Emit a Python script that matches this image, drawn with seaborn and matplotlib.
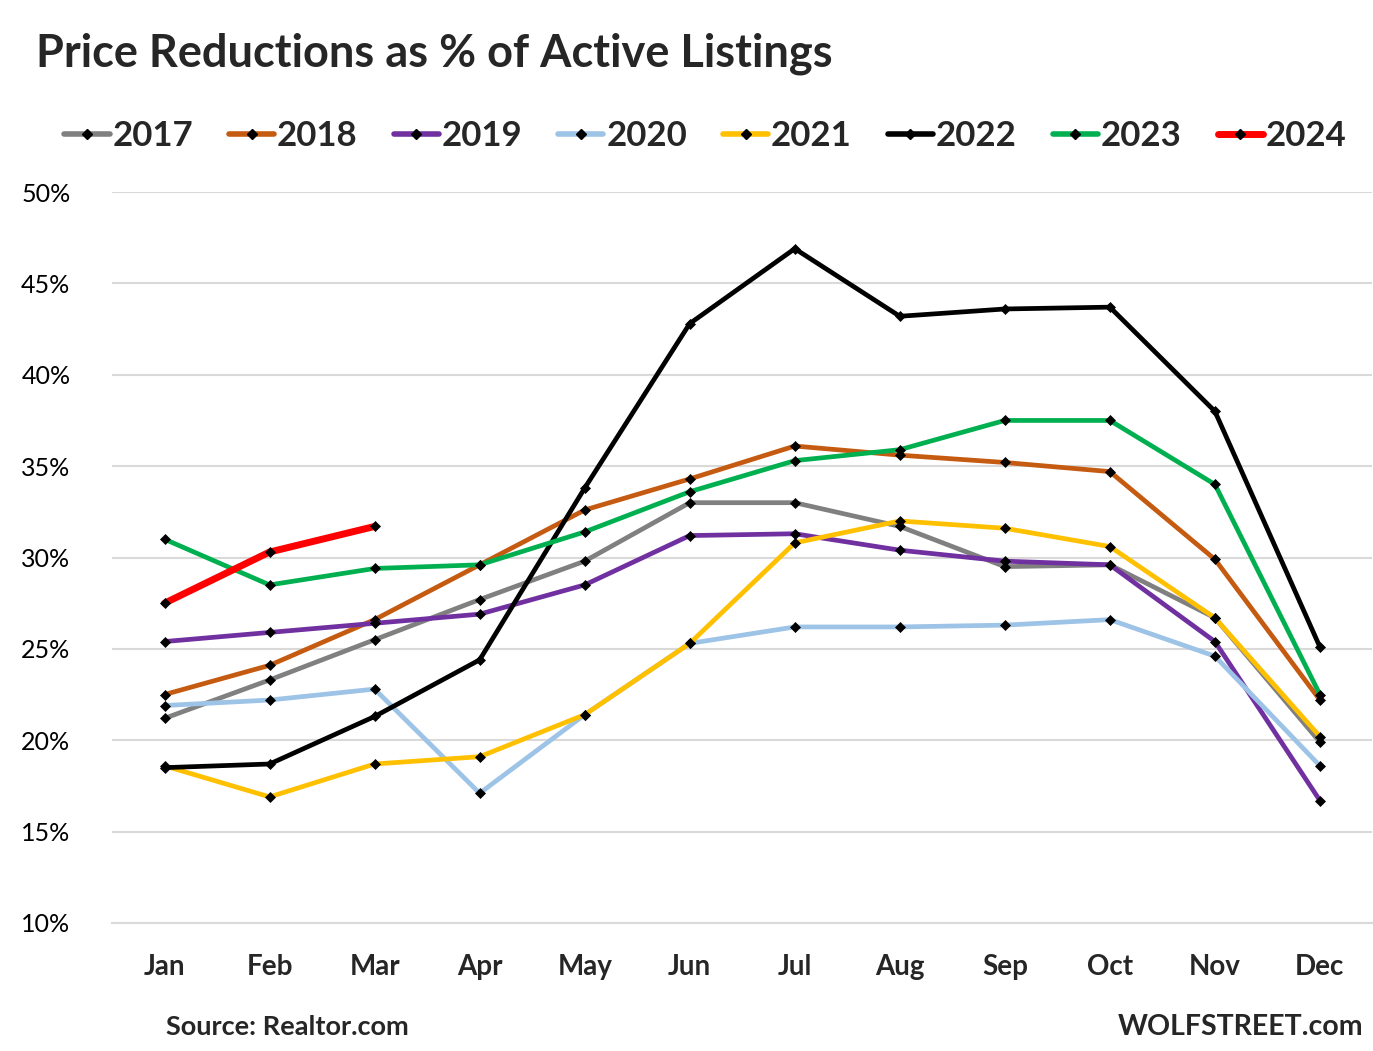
import matplotlib
matplotlib.use("Agg")
import matplotlib.pyplot as plt
from matplotlib.lines import Line2D
import seaborn as sns
import pandas as pd
import numpy as np

months = ["Jan", "Feb", "Mar", "Apr", "May", "Jun", "Jul", "Aug", "Sep", "Oct", "Nov", "Dec"]
years = ["2017", "2018", "2019", "2020", "2021", "2022", "2023", "2024"]

y2017 = [21.2, 23.3, 25.5, 27.7, 29.8, 33.0, 33.0, 31.7, 29.5, 29.6, 26.7, 19.9]
y2018 = [22.5, 24.1, 26.6, 29.6, 32.6, 34.3, 36.1, 35.6, 35.2, 34.7, 29.9, 22.2]
y2019 = [25.4, 25.9, 26.4, 26.9, 28.5, 31.2, 31.3, 30.4, 29.8, 29.6, 25.4, 16.7]
y2020 = [21.9, 22.2, 22.8, 17.1, 21.4, 25.3, 26.2, 26.2, 26.3, 26.6, 24.6, 18.6]
y2021 = [18.6, 16.9, 18.7, 19.1, 21.4, 25.3, 30.8, 32.0, 31.6, 30.6, 26.7, 20.2]
y2022 = [18.5, 18.7, 21.3, 24.4, 33.8, 42.8, 46.9, 43.2, 43.6, 43.7, 38.0, 25.1]
y2023 = [31.0, 28.5, 29.4, 29.6, 31.4, 33.6, 35.3, 35.9, 37.5, 37.5, 34.0, 22.5]
y2024 = [27.5, 30.3, 31.7]

series = [y2017, y2018, y2019, y2020, y2021, y2022, y2023, y2024]
colors = ["#808080", "#C55A11", "#7030A0", "#9DC3E6", "#FFC000", "#000000", "#00B050", "#FF0000"]

yticks = [10, 15, 20, 25, 30, 35, 40, 45, 50]
ytick_labels = ["10%", "15%", "20%", "25%", "30%", "35%", "40%", "45%", "50%"]

rows = []
for yr, vals in zip(years, series):
    for i, v in enumerate(vals):
        rows.append({"year": yr, "m": i, "value": v})
df = pd.DataFrame(rows)

sns.set_style("white")
plt.rcParams["font.family"] = ["Lato", "DejaVu Sans"]

fig = plt.figure(figsize=(13.73, 10.51), dpi=100)
ax = fig.add_axes([0.0816, 0.1218, 0.9180, 0.6955])

palette = dict(zip(years, colors))
for yr in years:
    sub = df[df["year"] == yr]
    lw = 5.0 if yr == "2024" else 3.4
    sns.lineplot(data=sub, x="m", y="value", color=palette[yr], lw=lw,
                 marker="D", markersize=5.5, markerfacecolor="black",
                 markeredgecolor="black", markeredgewidth=0.5,
                 ax=ax, legend=False, zorder=3)

ax.set_xlim(-0.5, 11.5)
ax.set_ylim(10, 50)
ax.set_yticks(yticks)
ax.set_yticklabels(ytick_labels, fontsize=18, color="#000000")
ax.set_xticks(range(12))
ax.set_xticklabels(months, fontsize=20, fontweight="bold")
ax.set_xticks(np.arange(-0.5, 12, 1), minor=True)
ax.tick_params(axis="x", which="major", length=0, pad=22)
ax.tick_params(axis="x", which="minor", length=10, width=1.2, color="#d9d9d9")
ax.tick_params(axis="y", length=0, pad=30)
for lbl in ax.get_yticklabels():
    lbl.set_horizontalalignment("right")
ax.set_xlabel("")
ax.set_ylabel("")
ax.grid(axis="y", color="#d9d9d9", lw=1.5, zorder=0)
ax.grid(axis="x", visible=False)
for s in ["left", "right", "top"]:
    ax.spines[s].set_visible(False)
ax.spines["bottom"].set_color("#d9d9d9")
ax.spines["bottom"].set_linewidth(1.5)
ax.set_axisbelow(True)

handles = [Line2D([0], [0], color=c, lw=(5 if y == "2024" else 4), marker="D",
                  markersize=5, markerfacecolor="black", markeredgecolor="black")
           for y, c in zip(years, colors)]
leg = fig.legend(handles, years, loc="center", bbox_to_anchor=(0.5137, 0.8706), ncol=8,
                 frameon=False, handlelength=1.3, handletextpad=0.08, columnspacing=1.04,
                 borderpad=0.0, borderaxespad=0.0,
                 prop={"family": "Lato", "weight": "bold", "size": 25})

fig.text(0.026, 0.949, "Price Reductions as % of Active Listings", fontsize=32.5,
         fontweight="bold", ha="left", va="center")
fig.text(0.121, 0.023, "Source: Realtor.com", fontsize=19.5, fontweight="bold",
         ha="left", va="center")
fig.text(0.993, 0.023, "WOLFSTREET.com", fontsize=20.5, fontweight="bold",
         ha="right", va="center")

fig.savefig("out.png", dpi=100, facecolor="white")
